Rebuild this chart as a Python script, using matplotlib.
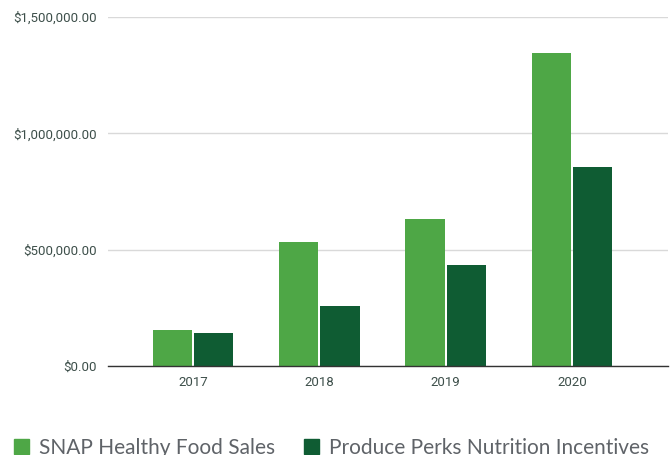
import matplotlib
matplotlib.use("Agg")
import matplotlib.pyplot as plt
from matplotlib.patches import Patch
import numpy as np

# data
years = ["2017", "2018", "2019", "2020"]
snap_sales = [153000, 534000, 632000, 1347000]
perks = [140000, 259000, 435000, 854000]
yticks = [0, 500000, 1000000, 1500000]

light = "#4ea746"
dark = "#0f5c33"
txt = "#3d4f4a"

fig = plt.figure(figsize=(6.71, 4.55), dpi=100)
ax = fig.add_axes([108/671, 89/455, 560/671, 349/455])

x = np.arange(len(years))
w = 0.31
ax.bar(x - 0.163, snap_sales, w, color=light, zorder=3)
ax.bar(x + 0.163, perks, w, color=dark, zorder=3)

ax.set_ylim(0, 1500000)
ax.set_xlim(-0.673, 3.76)
ax.set_yticks(yticks)
ax.set_yticklabels(["${:,.2f}".format(v) for v in yticks], fontfamily="Roboto",
                   fontsize=9.5, color=txt)
ax.set_xticks(x)
ax.set_xticklabels(years, fontfamily="Roboto", fontsize=9.5, color=txt)
ax.tick_params(axis="y", length=0, pad=8)
ax.tick_params(axis="x", length=0, pad=7)
ax.grid(axis="y", color="#d9d9d9", linewidth=1, zorder=0)
for s in ["top", "right", "left"]:
    ax.spines[s].set_visible(False)
ax.spines["bottom"].set_color("#333333")
ax.spines["bottom"].set_linewidth(1)
ax.spines["bottom"].set_zorder(4)

handles = [Patch(color=light, label="SNAP Healthy Food Sales"),
           Patch(color=dark, label="Produce Perks Nutrition Incentives")]
leg = fig.legend(handles=handles, loc="lower left", bbox_to_anchor=(14/671, -0.006),
                 ncol=2, frameon=False, prop={"family": "Lato", "size": 15},
                 handlelength=0.72, handleheight=0.72, handletextpad=0.48,
                 columnspacing=1.4, borderpad=0, borderaxespad=0)
for t in leg.get_texts():
    t.set_color("#5f6368")

fig.savefig("out.png", dpi=100)
